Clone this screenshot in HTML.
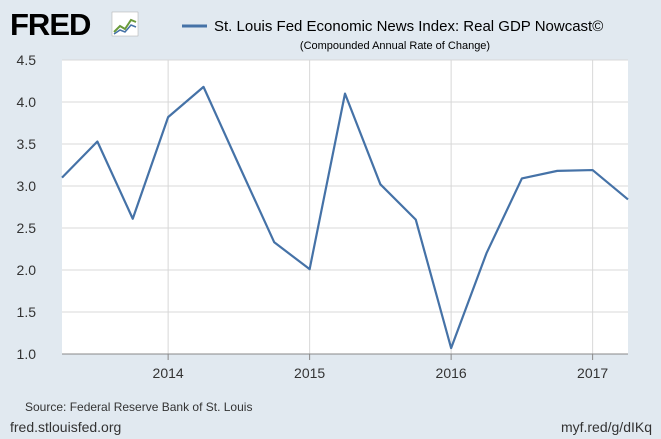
<!DOCTYPE html>
<html><head><meta charset="utf-8"><style>
body{margin:0;width:661px;height:439px;background:#e1e9f0;font-family:"Liberation Sans",sans-serif;overflow:hidden;position:relative}
</style></head><body>
<svg width="661" height="439" style="position:absolute;left:0;top:0">
<rect x="0" y="0" width="661" height="439" fill="#e1e9f0"/>
<g>
<text x="10" y="35" font-size="31" font-weight="bold" fill="#000" font-family="Liberation Sans" letter-spacing="-1">FRED</text>
<rect x="112" y="12" width="26" height="24" fill="#fff" stroke="#aaa" stroke-width="0.5"/>
<polyline points="114,32 120,26 125,29 131,20 136,22" fill="none" stroke="#6a9a3a" stroke-width="2"/>
<polyline points="114,34 120,30 125,32 131,25 136,27" fill="none" stroke="#4572a7" stroke-width="1.5"/>
</g>
<line x1="182" y1="26" x2="207" y2="26" stroke="#4572a7" stroke-width="3"/>
<text x="214" y="31" font-size="15" fill="#000">St. Louis Fed Economic News Index: Real GDP Nowcast©</text>
<text x="395" y="49" font-size="11" fill="#000" text-anchor="middle">(Compounded Annual Rate of Change)</text>
<rect x="62" y="60" width="566" height="294" fill="#fff"/>
<g id="grid"></g>
<g id="axes"></g>
<polyline id="series" fill="none" stroke="#4572a7" stroke-width="2.2" stroke-linejoin="round"/>
<text x="25" y="411" font-size="12" fill="#333">Source: Federal Reserve Bank of St. Louis</text>
<text x="10" y="432" font-size="14" fill="#333">fred.stlouisfed.org</text>
<text x="652" y="432" font-size="14" fill="#333" text-anchor="end">myf.red/g/dIKq</text>
</svg>
<script>
const quarters=["2013Q2","2013Q3","2013Q4","2014Q1","2014Q2","2014Q3","2014Q4","2015Q1","2015Q2","2015Q3","2015Q4","2016Q1","2016Q2","2016Q3","2016Q4","2017Q1","2017Q2"];
const values=[3.10,3.53,2.61,3.82,4.18,3.25,2.33,2.01,4.10,3.02,2.60,1.07,2.20,3.09,3.18,3.19,2.84];
const yTicks=[1.0,1.5,2.0,2.5,3.0,3.5,4.0,4.5];
const xTickLabels=["2014","2015","2016","2017"];
const xTickIndex=[3,7,11,15];
const L=62,R=628,T=60,B=354,yMin=1.0,yMax=4.5;
function xs(i){return L+(R-L)*i/(quarters.length-1);}
function ys(v){return B-(v-yMin)/(yMax-yMin)*(B-T);}
const NS="http://www.w3.org/2000/svg";
const grid=document.getElementById('grid'),axes=document.getElementById('axes');
yTicks.forEach(v=>{
 const l=document.createElementNS(NS,'line');
 l.setAttribute('x1',L);l.setAttribute('x2',R);l.setAttribute('y1',ys(v));l.setAttribute('y2',ys(v));
 l.setAttribute('stroke','#d8d8d8');l.setAttribute('stroke-width','1');
 
 
 grid.appendChild(l);
 const t=document.createElementNS(NS,'text');
 t.setAttribute('x',36);t.setAttribute('y',ys(v)+5);t.setAttribute('font-size','14');t.setAttribute('fill','#333');t.setAttribute('text-anchor','end');
 t.textContent=v.toFixed(1);
 
 
 axes.appendChild(t);
});
xTickIndex.forEach((qi,k)=>{
 const x=xs(qi);
 const l=document.createElementNS(NS,'line');
 l.setAttribute('x1',x);l.setAttribute('x2',x);l.setAttribute('y1',T);l.setAttribute('y2',B);
 l.setAttribute('stroke','#d8d8d8');l.setAttribute('stroke-width','1');
 
 
 grid.appendChild(l);
 const tk=document.createElementNS(NS,'line');
 tk.setAttribute('x1',x);tk.setAttribute('x2',x);tk.setAttribute('y1',B);tk.setAttribute('y2',B+6);
 tk.setAttribute('stroke','#888');
 
 
 axes.appendChild(tk);
 const t=document.createElementNS(NS,'text');
 t.setAttribute('x',x);t.setAttribute('y',B+24);t.setAttribute('font-size','14');t.setAttribute('fill','#333');t.setAttribute('text-anchor','middle');
 t.textContent=xTickLabels[k];
 
 
 axes.appendChild(t);
});
const ax=document.createElementNS(NS,'line');
ax.setAttribute('x1',L);ax.setAttribute('x2',R);ax.setAttribute('y1',B);ax.setAttribute('y2',B);ax.setAttribute('stroke','#888');


axes.appendChild(ax);
document.getElementById('series').setAttribute('points',values.map((v,i)=>xs(i)+','+ys(v)).join(' '));
</script>
</body></html>
